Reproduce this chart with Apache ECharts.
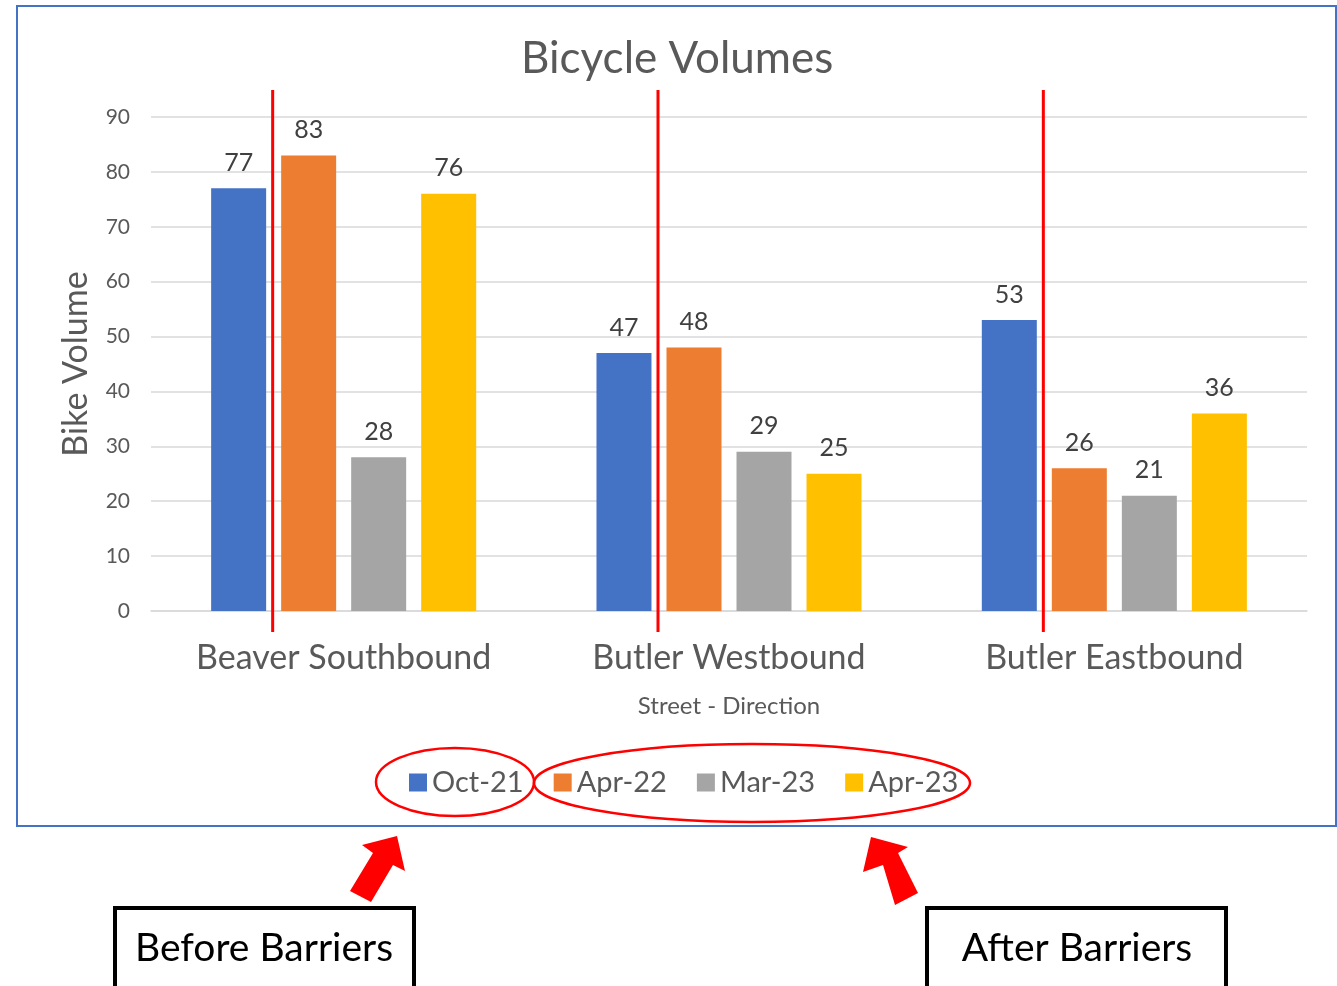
<!DOCTYPE html>
<html>
<head>
<meta charset="utf-8">
<title>Bicycle Volumes</title>
<script src="https://cdn.jsdelivr.net/npm/echarts@6/dist/echarts.min.js"></script>
<style>
  html, body { margin: 0; padding: 0; background: #fff; }
  #main { width: 1337px; height: 986px; }
</style>
</head>
<body>
<div id="main"></div>
<script>
// data
const streets = ['Beaver Southbound', 'Butler Westbound', 'Butler Eastbound'];
const periods = ['Oct-21', 'Apr-22', 'Mar-23', 'Apr-23'];
const oct21 = [77, 47, 53];
const apr22 = [83, 48, 26];
const mar23 = [28, 29, 21];
const apr23 = [76, 25, 36];
const yTicks = [0, 90, 10]; // min, max, step

const colors = ['#4472C4', '#ED7D31', '#A5A5A5', '#FFC000'];
const font = 'Lato, "Open Sans", sans-serif';
const barW = 55, gapW = 15;

let chart = echarts.init(document.getElementById('main'));

function barSeries(name, data) {
  return {
    name: name,
    type: 'bar',
    data: data,
    barWidth: barW,
    barGap: (gapW / barW * 100).toFixed(1) + '%',
    label: {
      show: true,
      position: 'top',
      distance: 13,
      color: '#404040',
      fontSize: 25,
      fontFamily: font
    }
  };
}

let option = {
  color: colors,
  animation: false,
  title: {
    text: 'Bicycle Volumes',
    left: 516,
    top: 32,
    textStyle: { color: '#595959', fontSize: 44, fontWeight: 'normal', fontFamily: font }
  },
  legend: {
    data: periods,
    left: 404,
    top: 763,
    icon: 'rect',
    itemWidth: 18,
    itemHeight: 18,
    itemGap: 30,
    textStyle: { color: '#595959', fontSize: 29, fontFamily: font }
  },
  grid: { left: 151, right: 30, top: 117, bottom: 375 },
  xAxis: {
    type: 'category',
    data: streets,
    name: 'Street - Direction',
    nameLocation: 'middle',
    nameGap: 83,
    nameTextStyle: { color: '#595959', fontSize: 24, fontFamily: font },
    axisLine: { lineStyle: { color: '#D9D9D9', width: 1.5 } },
    axisTick: { show: false },
    axisLabel: { color: '#595959', fontSize: 34, margin: 30, interval: 0, fontFamily: font }
  },
  yAxis: {
    type: 'value',
    min: yTicks[0],
    max: yTicks[1],
    interval: yTicks[2],
    name: 'Bike Volume',
    nameLocation: 'middle',
    nameGap: 58,
    nameTextStyle: { color: '#595959', fontSize: 34, fontFamily: font },
    axisLine: { show: false },
    axisTick: { show: false },
    axisLabel: { color: '#595959', fontSize: 21, margin: 21, fontFamily: font },
    splitLine: { lineStyle: { color: '#D9D9D9', width: 1.5 } }
  },
  series: [
    barSeries(periods[0], oct21),
    barSeries(periods[1], apr22),
    barSeries(periods[2], mar23),
    barSeries(periods[3], apr23)
  ]
};
chart.setOption(option);

// annotations drawn on top of the chart
let groupW = 4 * barW + 3 * gapW;
let redLines = streets.map(function (s) {
  let cx = chart.convertToPixel({ xAxisIndex: 0 }, s);
  let x = cx - groupW / 2 + barW + gapW / 2 - 1;
  return {
    type: 'line',
    shape: { x1: x, y1: 90, x2: x, y2: 632 },
    style: { stroke: '#FF0000', lineWidth: 3 },
    z: 100
  };
});

let boxText = { fill: '#000', fontSize: 39, fontFamily: font };

chart.setOption({
  graphic: redLines.concat([
    {
      type: 'rect',
      shape: { x: 17, y: 6, width: 1319, height: 820 },
      style: { fill: 'none', stroke: '#4472C4', lineWidth: 2 },
      silent: true
    },
    {
      type: 'ellipse',
      shape: { cx: 455, cy: 782, rx: 79, ry: 34 },
      style: { fill: 'none', stroke: '#FF0000', lineWidth: 2.5 }
    },
    {
      type: 'ellipse',
      shape: { cx: 752, cy: 783, rx: 218, ry: 39 },
      style: { fill: 'none', stroke: '#FF0000', lineWidth: 2.5 }
    },
    {
      type: 'polygon',
      shape: { points: [[397, 836], [405, 871], [393, 865], [371, 902], [350, 891], [373, 853], [362, 845]] },
      style: { fill: '#FF0000' }
    },
    {
      type: 'polygon',
      shape: { points: [[871, 837], [908, 847], [898, 853], [918, 893], [895, 905], [883, 865], [863, 872]] },
      style: { fill: '#FF0000' }
    },
    {
      type: 'rect',
      shape: { x: 115, y: 908, width: 299, height: 100 },
      style: { fill: '#fff', stroke: '#000', lineWidth: 4 }
    },
    {
      type: 'text',
      x: 264, y: 948,
      style: Object.assign({ text: 'Before Barriers', align: 'center', verticalAlign: 'middle' }, boxText)
    },
    {
      type: 'rect',
      shape: { x: 927, y: 908, width: 299, height: 100 },
      style: { fill: '#fff', stroke: '#000', lineWidth: 4 }
    },
    {
      type: 'text',
      x: 1077, y: 948,
      style: Object.assign({ text: 'After Barriers', align: 'center', verticalAlign: 'middle' }, boxText)
    }
  ])
});
</script>
</body>
</html>
